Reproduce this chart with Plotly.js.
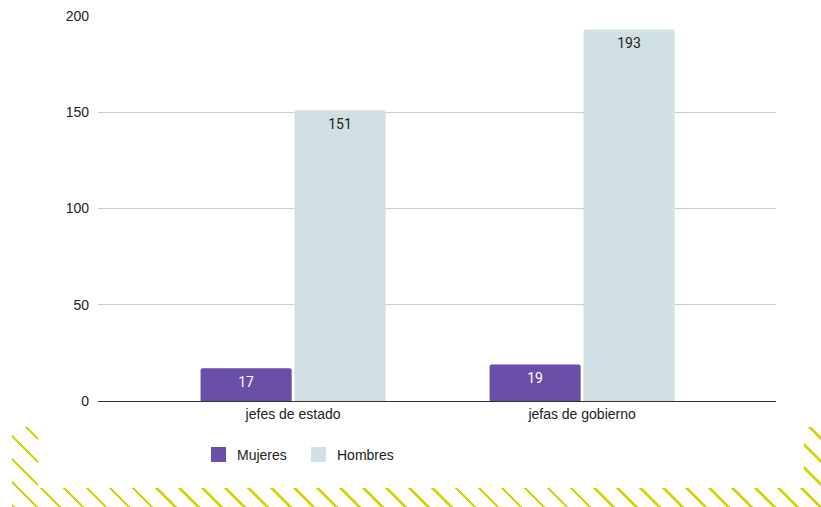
<!DOCTYPE html>
<html>
<head>
<meta charset="utf-8">
<script src="https://cdn.plot.ly/plotly-3.0.1.min.js"></script>
<style>
  html, body { margin: 0; padding: 0; background: #ffffff; }
  #wrap { position: relative; width: 821px; height: 507px; overflow: hidden; }
  #stripes {
    position: absolute; left: 12px; top: 427px; width: 809px; height: 80px;
    background: repeating-linear-gradient(45deg, #d6d40a 0px, #d6d40a 2.6px, #ffffff 2.6px, #ffffff 16.3px);
  }
  #inner { position: absolute; left: 38px; top: 427px; width: 766px; height: 61px; background: #ffffff; }
  #chart { position: absolute; left: 0; top: 0; width: 821px; height: 507px; }
</style>
</head>
<body>
<div id="wrap">
  <div id="stripes"></div>
  <div id="inner"></div>
  <div id="chart"></div>
</div>
<script>
const categories = ["jefes de estado", "jefas de gobierno"];
const mujeres = [17, 19];
const hombres = [151, 193];
const yTicks = [0, 50, 100, 150, 200];

const font = "Liberation Sans, Arial, sans-serif";

const traces = [
  {
    type: "bar", name: "Mujeres", x: categories, y: mujeres,
    marker: { color: "#6a4fa8" },
    text: mujeres.map(String), textposition: "inside", insidetextanchor: "end",
    textfont: { color: "#ffffff", size: 14, family: "Roboto, Liberation Sans, Arial" },
    hoverinfo: "none"
  },
  {
    type: "bar", name: "Hombres", x: categories, y: hombres,
    marker: { color: "#d0e0e3" },
    text: hombres.map(String), textposition: "inside", insidetextanchor: "end",
    textfont: { color: "#222222", size: 14, family: "Roboto, Liberation Sans, Arial" },
    hoverinfo: "none"
  }
];

const layout = {
  width: 821, height: 507,
  margin: { l: 98, r: 45, t: 16, b: 106 },
  paper_bgcolor: "rgba(0,0,0,0)",
  plot_bgcolor: "rgba(0,0,0,0)",
  font: { family: font, size: 14, color: "#222222" },
  barmode: "group",
  bargap: 0.35,
  bargroupgap: 0.03,
  barcornerradius: 2,
  xaxis: {
    type: "category",
    range: [-0.675, 1.671],
    showgrid: false, zeroline: false, showline: false,
    ticks: "", ticklabelstandoff: 3,
    tickfont: { size: 14, color: "#222222" },
    fixedrange: true
  },
  yaxis: {
    range: [0, 200],
    tickvals: yTicks, ticktext: yTicks.map(String),
    showgrid: true, gridcolor: "#cccccc", gridwidth: 1,
    zeroline: true, zerolinecolor: "#333333", zerolinewidth: 1,
    showline: false, ticks: "", ticklabelstandoff: 8,
    tickfont: { size: 14, color: "#222222" },
    fixedrange: true
  },
  showlegend: true,
  legend: {
    orientation: "h",
    x: 0.146, xanchor: "left",
    y: -0.14, yanchor: "middle",
    entrywidth: 55, entrywidthmode: "pixels",
    font: { size: 14, color: "#222222" },
    bgcolor: "rgba(0,0,0,0)",
    itemclick: false, itemdoubleclick: false
  }
};

function tweak(gd) {
  // enlarge legend swatches to match the reference (15px squares)
  gd.querySelectorAll(".legend .legendpoints path").forEach(p => {
    p.setAttribute("d", "M9,7.5H-6V-7.5H9Z");
  });
  // push inside bar labels slightly lower (wrap only the text node)
  const ns = "http://www.w3.org/2000/svg";
  gd.querySelectorAll(".barlayer text.bartext").forEach(t => {
    const wrap = document.createElementNS(ns, "g");
    wrap.setAttribute("transform", "translate(0,2.5)");
    t.parentNode.insertBefore(wrap, t);
    wrap.appendChild(t);
  });
}

Plotly.newPlot("chart", traces, layout, { displayModeBar: false, staticPlot: true })
  .then(gd => tweak(gd));
</script>
</body>
</html>
